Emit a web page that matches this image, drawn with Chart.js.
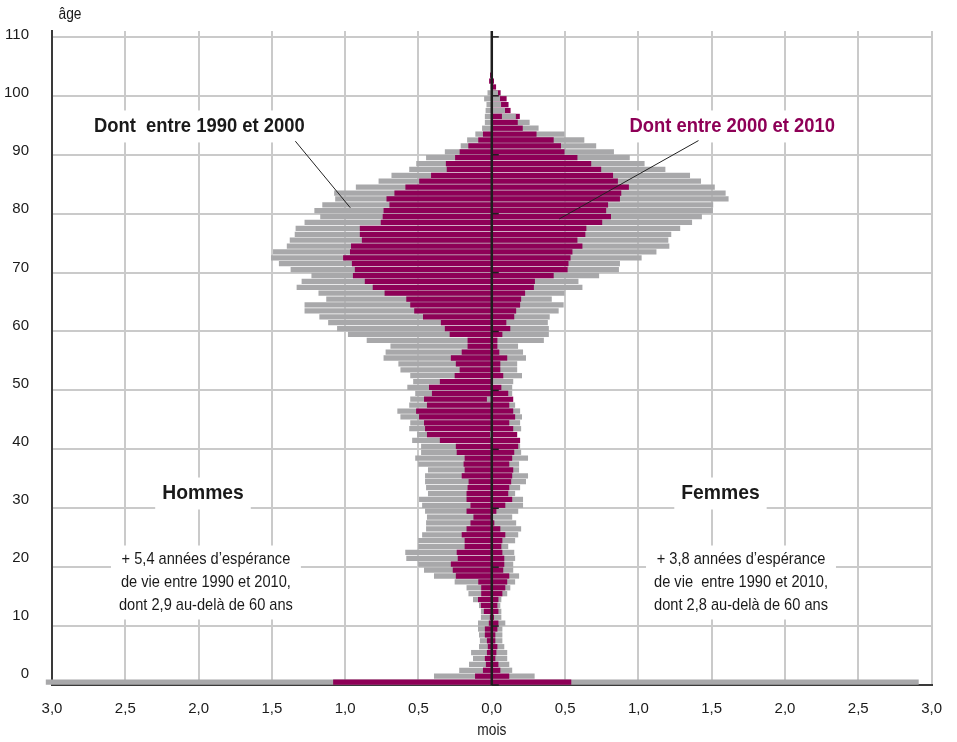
<!DOCTYPE html>
<html>
<head>
<meta charset="utf-8">
<script src="https://cdn.jsdelivr.net/npm/chart.js@4/dist/chart.umd.min.js"></script>
<style>
  html, body { margin: 0; padding: 0; background: #fff; }
  canvas { display: block; }
</style>
</head>
<body>
<canvas id="pyramid" width="957" height="742"></canvas>
<script>
// Ages (one bar per year of age)
const ages = [0,1,2,3,4,5,6,7,8,9,10,11,12,13,14,15,16,17,18,19,20,21,22,23,24,25,26,27,28,29,
  30,31,32,33,34,35,36,37,38,39,40,41,42,43,44,45,46,47,48,49,50,51,52,53,54,55,56,57,58,59,
  60,61,62,63,64,65,66,67,68,69,70,71,72,73,74,75,76,77,78,79,80,81,82,83,84,85,86,87,88,89,
  90,91,92,93,94,95,96,97,98,99,100,101,102,103,104,105,106,107,108,109,110];

// Hommes (left, negative) - gray bar 1990-2010, magenta bar 2000-2010, in months
const hommesGris = [-3.04,-0.392,-0.22,-0.153,-0.126,-0.139,-0.085,-0.079,-0.085,-0.092,
  -0.092,-0.072,-0.072,-0.085,-0.126,-0.157,-0.17,-0.251,-0.392,-0.46,
  -0.5,-0.581,-0.588,-0.5,-0.5,-0.473,-0.446,-0.446,-0.44,-0.453,
  -0.473,-0.494,-0.433,-0.446,-0.453,-0.453,-0.433,-0.5,-0.52,-0.48,
  -0.48,-0.541,-0.507,-0.561,-0.554,-0.621,-0.642,-0.561,-0.554,-0.52,
  -0.574,-0.534,-0.554,-0.621,-0.635,-0.736,-0.722,-0.689,-0.851,-0.979,
  -1.053,-1.114,-1.174,-1.275,-1.275,-1.127,-1.18,-1.329,-1.295,-1.228,
  -1.37,-1.45,-1.504,-1.49,-1.396,-1.376,-1.342,-1.336,-1.275,-1.168,
  -1.208,-1.154,-1.066,-1.073,-0.925,-0.77,-0.682,-0.561,-0.513,-0.446,
  -0.318,-0.21,-0.166,-0.11,-0.064,-0.045,-0.045,-0.04,-0.034,-0.05,
  -0.027,-0.007,0,0,0,0,0,0,0,0,0];
const hommesMagenta = [-1.08,-0.112,-0.058,-0.038,-0.045,-0.031,-0.025,-0.031,-0.045,-0.045,
  -0.018,-0.011,-0.052,-0.072,-0.092,-0.07,-0.07,-0.09,-0.243,-0.264,
  -0.277,-0.23,-0.237,-0.183,-0.183,-0.203,-0.17,-0.143,-0.123,-0.17,
  -0.143,-0.17,-0.17,-0.163,-0.156,-0.203,-0.183,-0.19,-0.183,-0.237,
  -0.243,-0.352,-0.44,-0.453,-0.46,-0.494,-0.514,-0.44,-0.46,-0.406,
  -0.426,-0.352,-0.251,-0.217,-0.243,-0.277,-0.203,-0.163,-0.163,-0.285,
  -0.318,-0.345,-0.467,-0.527,-0.554,-0.581,-0.729,-0.81,-0.864,-0.945,
  -0.932,-0.952,-1.012,-0.965,-0.958,-0.884,-0.898,-0.898,-0.755,-0.742,
  -0.736,-0.696,-0.716,-0.662,-0.587,-0.493,-0.412,-0.305,-0.311,-0.248,
  -0.217,-0.158,-0.09,-0.058,0,0,0.189,0.126,0.112,0.099,
  0.058,0,-0.016,-0.01,0,0,0,0,0,0,0];

// Femmes (right, positive)
const femmesGris = [2.91,0.29,0.137,0.117,0.103,0.103,0.083,0.07,0.07,0.07,
  0.09,0.063,0.063,0.056,0.063,0.103,0.124,0.157,0.184,0.144,
  0.144,0.157,0.151,0.11,0.157,0.178,0.198,0.164,0.137,0.178,
  0.211,0.211,0.157,0.191,0.231,0.245,0.184,0.184,0.245,0.198,
  0.191,0.19,-0.01,0.198,0.191,0.204,0.191,0.157,-0.031,0.137,
  0.137,0.144,0.204,0.171,0.171,0.231,0.211,0.177,0.353,0.387,
  0.387,0.38,0.393,0.454,0.488,0.407,0.494,0.616,0.589,0.73,
  0.865,0.872,1.02,1.121,1.209,1.202,1.222,1.283,1.364,1.431,
  1.506,1.508,1.613,1.593,1.519,1.425,1.35,1.182,1.04,0.939,
  0.831,0.71,0.629,0.494,0.317,0.256,0.162,0.088,0.061,0.054,
  0.04,0,0,0,0,0,0,0,0,0,0];
const femmesMagenta = [0.54,0.117,0.056,0.043,0.022,0.029,0.036,0.022,0.022,0.036,
  0.043,0.013,0.043,0.036,0.043,0.07,0.09,0.103,0.117,0.076,
  0.083,0.083,0.07,0.063,0.07,0.09,0.056,0.015,0,0.029,
  0.09,0.137,0.11,0.117,0.13,0.137,0.144,0.117,0.137,0.151,
  0.178,0.191,0.171,0.144,0.117,0.157,0.144,0.117,0.144,0.11,
  0.063,0,0.076,0.056,0.056,0.103,0.049,0.036,0.036,0.07,
  0.124,0.097,0.151,0.164,0.191,0.198,0.225,0.285,0.292,0.42,
  0.515,0.521,0.535,0.548,0.616,0.582,0.636,0.643,0.751,0.811,
  0.778,0.791,0.872,0.881,0.933,0.858,0.825,0.744,0.676,0.582,
  0.494,0.47,0.42,0.303,0.209,0.175,0.067,0,0,0,
  0,0.027,0.013,0,0,0,0,0,0,0,0];

// Tick labels
const xTicks = [-3, -2.5, -2, -1.5, -1, -0.5, 0, 0.5, 1, 1.5, 2, 2.5, 3];
const yTicks = [0, 10, 20, 30, 40, 50, 60, 70, 80, 90, 100, 110];

const MAGENTA = '#8e0057';
const GRIS = '#a8a8aa';
const GRID = '#cacaca';
const FONT = '"Liberation Sans", Arial, sans-serif';

// bars sit between two age gridlines
function points(values) {
  return ages.map((a, i) => ({ x: values[i], y: a + 0.5 }));
}

function barSet(label, values, color, order) {
  return {
    label: label,
    data: points(values),
    backgroundColor: color,
    yAxisID: 'y',
    grouped: false,
    barThickness: 4.6,
    order: order,
    clip: false
  };
}

// Text and leader lines, placed in data units
const notes = [
  { text: 'Dont  entre 1990 et 2000', x: -1.995, y: 94.8, size: 20, color: '#1a1a1a' },
  { text: 'Dont entre 2000 et 2010', x: 1.64, y: 94.8, size: 20, color: MAGENTA },
  { text: 'Hommes', x: -1.97, y: 32.5, size: 21, color: '#1a1a1a' },
  { text: 'Femmes', x: 1.56, y: 32.5, size: 21, color: '#1a1a1a' }
];
const blocks = [
  { lines: ['+ 5,4 années d\u2019espérance', 'de vie entre 1990 et 2010,', 'dont 2,9 au-delà de 60 ans'], x: -1.95, y: 21.3 },
  { lines: ['+ 3,8 années d\u2019espérance', 'de vie  entre 1990 et 2010,', 'dont 2,8 au-delà de 60 ans'], x: 1.70, y: 21.3 }
];
const leaders = [
  { from: [-1.34, 92.3], to: [-0.965, 81.0] },
  { from: [1.41, 92.4], to: [0.46, 79.1] }
];

const PLAIN = '17px ' + FONT;
const SQUEEZE_BOLD = 0.92;
const SQUEEZE = 0.86; // condensed look

function narrowText(ctx, text, x, y, k) {
  ctx.save();
  ctx.translate(x, y);
  ctx.scale(k, 1);
  ctx.fillText(text, 0, 0);
  ctx.restore();
}

const annotate = {
  id: 'annotate',
  beforeDatasetsDraw(chart) {
    // white boxes behind the texts (hide the grid)
    const ctx = chart.ctx;
    const xs = chart.scales.x;
    const ys = chart.scales.y;
    ctx.save();
    ctx.fillStyle = '#fff';
    notes.forEach(n => {
      ctx.font = 'bold ' + n.size + 'px ' + FONT;
      const w = ctx.measureText(n.text).width * SQUEEZE_BOLD;
      ctx.fillRect(xs.getPixelForValue(n.x) - w / 2 - 7, ys.getPixelForValue(n.y) - 16, w + 14, 32);
    });
    ctx.font = PLAIN;
    blocks.forEach(b => {
      const w = Math.max(...b.lines.map(t => ctx.measureText(t).width)) * SQUEEZE;
      ctx.fillRect(xs.getPixelForValue(b.x) - w / 2 - 8, ys.getPixelForValue(b.y) - 14, w + 16, 74);
    });
    ctx.restore();
  },
  afterDatasetsDraw(chart) {
    const ctx = chart.ctx;
    const xs = chart.scales.x;
    const ys = chart.scales.y;
    const area = chart.chartArea;

    // central axis with small ticks
    const x0 = xs.getPixelForValue(0);
    ctx.save();
    ctx.strokeStyle = '#1e1e1e';
    ctx.lineWidth = 2.5;
    ctx.beginPath();
    ctx.moveTo(x0, area.top);
    ctx.lineTo(x0, area.bottom);
    ctx.stroke();
    ctx.lineWidth = 1.5;
    yTicks.forEach(v => {
      const py = ys.getPixelForValue(v);
      ctx.beginPath();
      ctx.moveTo(x0, py);
      ctx.lineTo(x0 + 7, py);
      ctx.stroke();
    });

    // leader lines
    ctx.strokeStyle = '#222';
    ctx.lineWidth = 1;
    leaders.forEach(l => {
      ctx.beginPath();
      ctx.moveTo(xs.getPixelForValue(l.from[0]), ys.getPixelForValue(l.from[1]));
      ctx.lineTo(xs.getPixelForValue(l.to[0]), ys.getPixelForValue(l.to[1]));
      ctx.stroke();
    });

    ctx.textAlign = 'center';
    ctx.textBaseline = 'middle';
    notes.forEach(n => {
      ctx.font = 'bold ' + n.size + 'px ' + FONT;
      ctx.fillStyle = n.color;
      narrowText(ctx, n.text, xs.getPixelForValue(n.x), ys.getPixelForValue(n.y), SQUEEZE_BOLD);
    });

    ctx.font = PLAIN;
    ctx.fillStyle = '#1a1a1a';
    blocks.forEach(b => {
      const px = xs.getPixelForValue(b.x);
      const py = ys.getPixelForValue(b.y);
      b.lines.forEach((t, i) => narrowText(ctx, t, px, py + i * 23, SQUEEZE));
    });

    // axis titles
    ctx.font = '16px ' + FONT;
    narrowText(ctx, 'âge', 70, 15, SQUEEZE);
    narrowText(ctx, 'mois', x0, 731, SQUEEZE);
    ctx.restore();
  }
};

const chart = new Chart(document.getElementById('pyramid'), {
  type: 'bar',
  data: {
    datasets: [
      barSet('Hommes 1990-2010', hommesGris, GRIS, 4),
      barSet('Hommes 2000-2010', hommesMagenta, MAGENTA, 3),
      barSet('Femmes 1990-2010', femmesGris, GRIS, 2),
      barSet('Femmes 2000-2010', femmesMagenta, MAGENTA, 1)
    ]
  },
  options: {
    indexAxis: 'y',
    responsive: false,
    animation: false,
    layout: { padding: { top: 31, right: 13, left: 0, bottom: 0 } },
    plugins: {
      legend: { display: false },
      tooltip: { enabled: false }
    },
    scales: {
      yl: {
        type: 'linear',
        position: 'left',
        weight: 1,
        offset: false,
        min: -1.89,
        max: 110.69,
        afterBuildTicks: s => { s.ticks = yTicks.map(v => ({ value: v })); },
        ticks: { padding: 15, color: '#1a1a1a', font: { family: FONT, size: 15 } },
        grid: { display: false },
        border: { display: false },
        afterFit: s => { s.width = 52; }
      },
      y: {
        type: 'linear',
        position: 'left',
        weight: 0,
        offset: false,
        min: 0,
        max: 111,
        afterBuildTicks: s => { s.ticks = yTicks.map(v => ({ value: v })); },
        ticks: { display: false },
        grid: { color: GRID, lineWidth: 2, drawTicks: false, offset: false },
        border: { color: '#3a3a3a', width: 2 },
        afterFit: s => { s.width = 0; }
      },
      x: {
        type: 'linear',
        min: -3,
        max: 3,
        afterBuildTicks: s => { s.ticks = xTicks.map(v => ({ value: v })); },
        ticks: {
          padding: 15,
          color: '#1a1a1a',
          font: { family: FONT, size: 15 },
          callback: v => Math.abs(v).toFixed(1).replace('.', ',')
        },
        grid: { color: GRID, lineWidth: 2, drawTicks: false },
        border: { color: '#3a3a3a', width: 2 },
        afterFit: s => { s.height = 57; }
      }
    }
  },
  plugins: [annotate]
});
</script>
</body>
</html>
